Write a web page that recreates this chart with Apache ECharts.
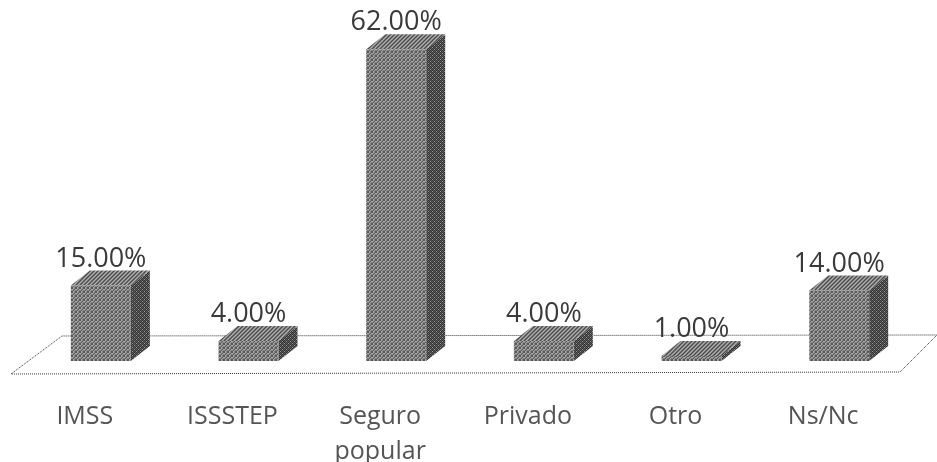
<!DOCTYPE html>
<html><head><meta charset="utf-8">
<style>html,body{margin:0;padding:0;background:#fff}#c{width:937px;height:462px}</style>
<script src="https://cdn.jsdelivr.net/npm/echarts@6/dist/echarts.min.js"></script>
</head><body><div id="c"></div>
<script>
const categories = ['IMSS','ISSSTEP','Seguro\npopular','Privado','Otro','Ns/Nc'];
const values = [15,4,62,4,1,14];
const FONT = '"Open Sans", sans-serif';

function tile(rows, dark, mid, light){
  const s = rows.length, cv = document.createElement('canvas');
  cv.width = s; cv.height = s;
  const g = cv.getContext('2d');
  rows.forEach((r,y)=>[...r].forEach((ch,x)=>{
    g.fillStyle = ch==='#' ? dark : ch==='+' ? mid : light;
    g.fillRect(x,y,1,1);
  }));
  return {image:cv, repeat:'repeat'};
}
const frontFill = tile(['#.+#','.+#.','+#.+','#.+#'], '#5a5a5a', '#808080', '#a8a8a8');
const topFill   = tile(['#+.+','+.+#','.+#+','+#+.'], '#4c4c4c', '#7c7c7c', '#b0b0b0');
const sideFill  = tile(['#+#+','+#.#','#+#+','.#+#'], '#333333', '#5c5c5c', '#9a9a9a');

function floorItem(params, api){
  const cs = params.coordSys;
  const base = api.coord([0,0])[1];
  const l = cs.x, r = cs.x + cs.width + 3;
  return {type:'polygon', silent:true,
    shape:{points:[[l,base+13],[l+51,base-25],[r+37,base-26],[r,base+11]]},
    style:{fill:'#fff', stroke:'#333', lineWidth:1, lineDash:[1,1]}};
}
function barItem(params, api){
  const i = api.value(0), v = api.value(1);
  const c0 = api.coord([i,0]), c1 = api.coord([i,v]);
  const w = 60, dx = 19, dy = 15, off = 16;
  const x0 = c0[0] + off - w/2, x1 = x0 + w, yb = c0[1], yt = c1[1];
  return {type:'group', children:[
    {type:'polygon', shape:{points:[[x0,yt],[x0+dx,yt-dy],[x1+dx,yt-dy],[x1,yt]]}, style:{fill:topFill}},
    {type:'polygon', shape:{points:[[x1,yb],[x1+dx,yb-dy],[x1+dx,yt-dy],[x1,yt]]}, style:{fill:sideFill}},
    {type:'rect', shape:{x:x0,y:yt,width:w,height:yb-yt}, style:{fill:frontFill}},
    {type:'text', style:{text:v.toFixed(2)+'%', x:x0+w/2, y:yt-dy+2, align:'center', verticalAlign:'bottom',
      font:'27px '+FONT, fill:'#3a3a3a'}, z2:10}
  ]};
}
const chart = echarts.init(document.getElementById('c'), null, {renderer:'canvas'});
chart.setOption({
  animation:false,
  backgroundColor:'#fff',
  grid:{left:11, width:886, top:9, bottom:101, outerBoundsMode:'none'},
  xAxis:{type:'category', data:categories,
    axisLine:{show:false}, axisTick:{show:false}, splitLine:{show:false},
    axisLabel:{margin:38, interval:0, fontFamily:'"Open Sans", sans-serif', fontSize:25, color:'#555', lineHeight:35}},
  yAxis:{type:'value', min:0, max:70, show:false, splitLine:{show:false}},
  series:[
    {type:'custom', coordinateSystem:'cartesian2d', clip:false, silent:true, z:1, data:[[0,0]], renderItem:floorItem, encode:{x:0,y:1}},
    {type:'custom', coordinateSystem:'cartesian2d', clip:false, silent:true, z:2,
      data:values.map((v,i)=>[i,v]), renderItem:barItem, encode:{x:0,y:1}}
  ]
});
</script></body></html>
